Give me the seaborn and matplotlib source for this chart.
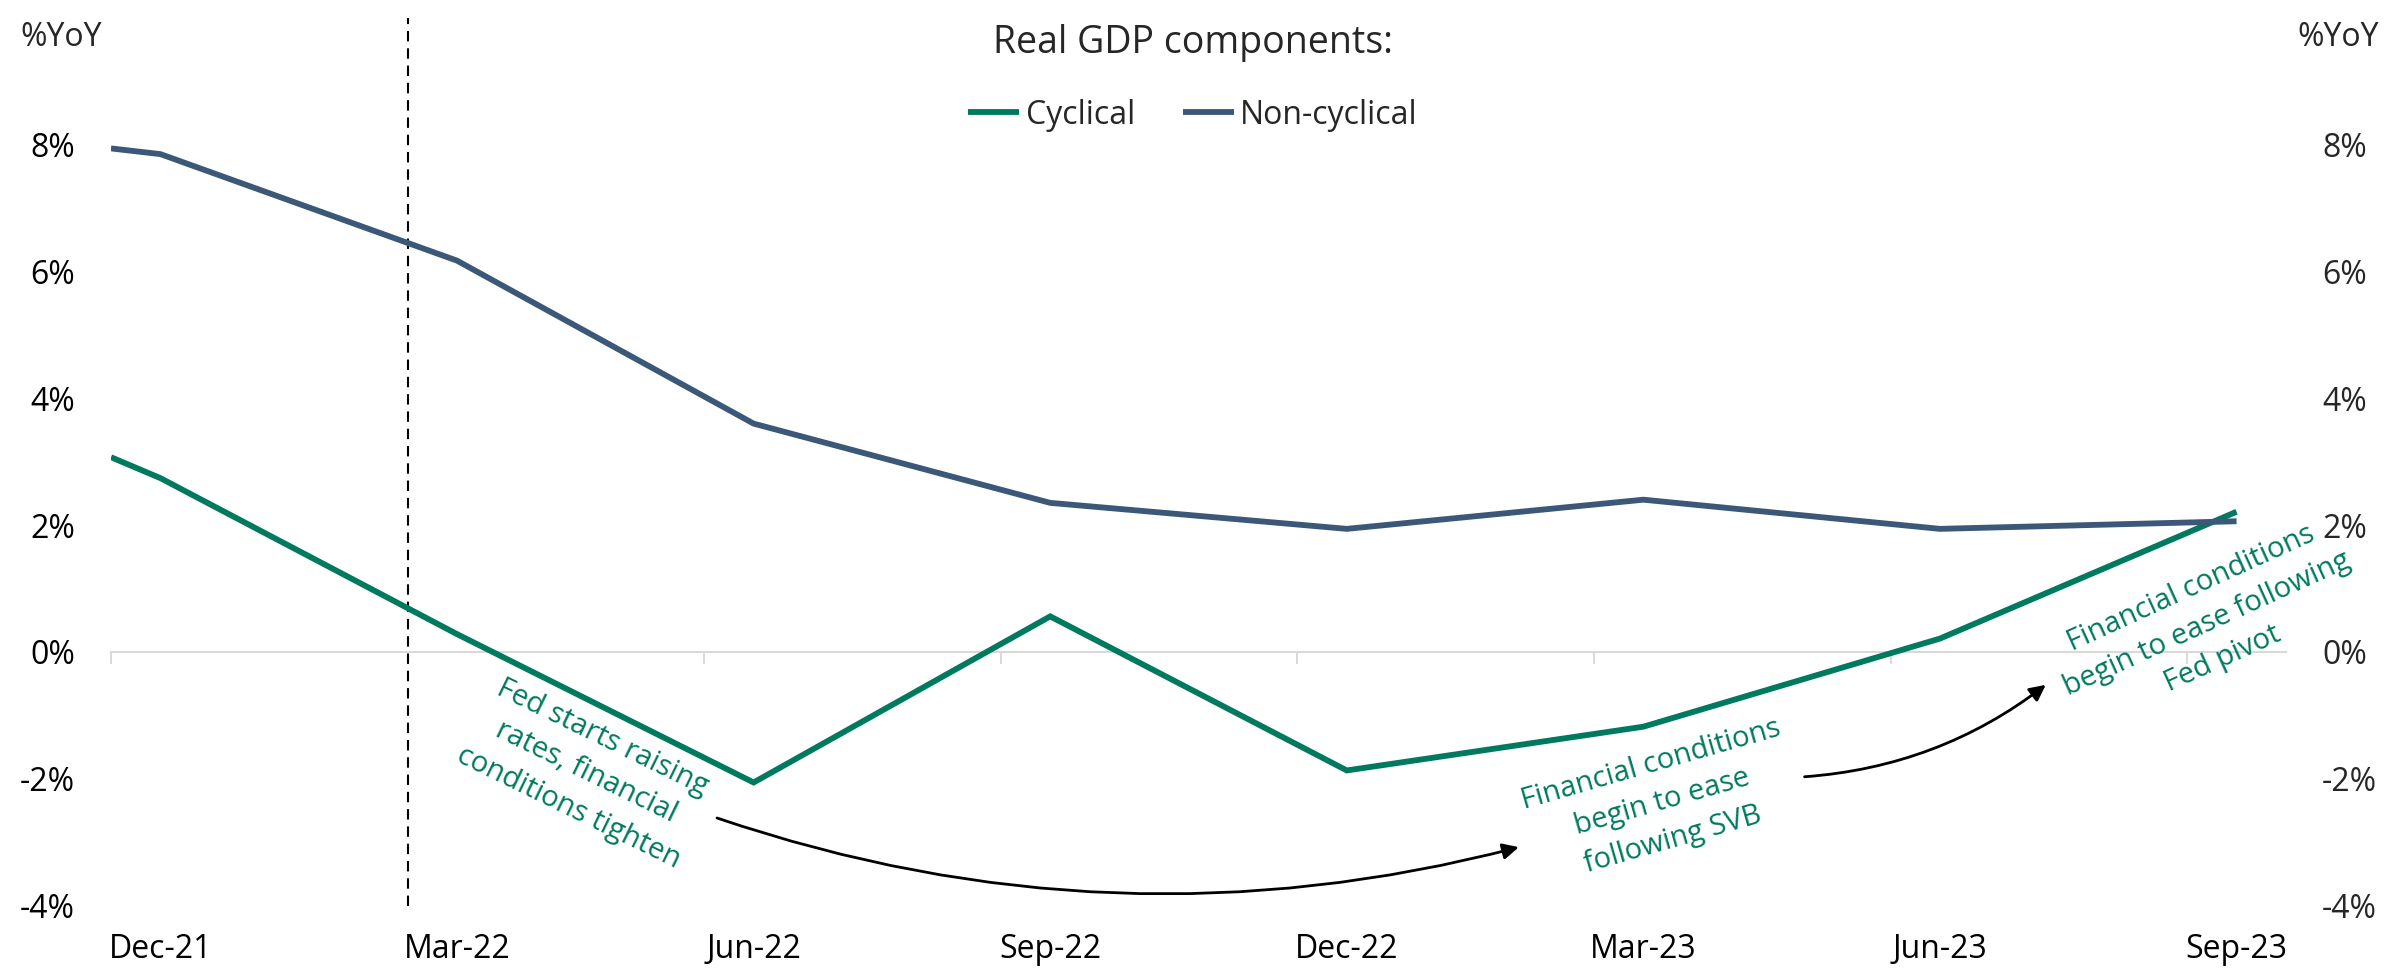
import numpy as np
import pandas as pd
import matplotlib
matplotlib.use("Agg")
import matplotlib.pyplot as plt
import seaborn as sns

# ---------------- data ----------------
# x positions in months, Dec-21 = 0 (first observation sits at the start of the axis)
month_index = [-0.5, 0, 3, 6, 9, 12, 15, 18, 21]
cyclical = [3.07, 2.74, 0.28, -2.06, 0.56, -1.87, -1.18, 0.21, 2.21]
non_cyclical = [7.94, 7.85, 6.17, 3.60, 2.35, 1.94, 2.40, 1.94, 2.06]
series_names = ["Cyclical", "Non-cyclical"]

tick_positions = [0, 3, 6, 9, 12, 15, 18, 21]
tick_labels = ["Dec-21", "Mar-22", "Jun-22", "Sep-22", "Dec-22", "Mar-23", "Jun-23", "Sep-23"]
quarter_bounds = [-0.5, 2.5, 5.5, 8.5, 11.5, 14.5, 17.5, 20.5]
y_ticks = [-4, -2, 0, 2, 4, 6, 8]
fed_hike_month = 2.5

GREEN = "#007A5E"
BLUE = "#3B5878"
GRAY = "#D9D9D9"

df = pd.DataFrame({
    "month": month_index * 2,
    "value": cyclical + non_cyclical,
    "series": [series_names[0]] * len(cyclical) + [series_names[1]] * len(non_cyclical),
})

sns.set_style("white")
plt.rcParams["font.family"] = ["Open Sans", "DejaVu Sans"]

W, H = 2386, 976
fig = plt.figure(figsize=(W / 100, H / 100), dpi=100)
ax = fig.add_axes([111 / W, 1 - 905.5 / H, (2286 - 111) / W, (905.5 - 17.8) / H])

sns.lineplot(data=df, x="month", y="value", hue="series",
             palette={series_names[0]: GREEN, series_names[1]: BLUE},
             linewidth=4.2, ax=ax, legend=True, sort=False)
handles, labels = ax.get_legend_handles_labels()
ax.get_legend().remove()
for ln in ax.lines:
    ln.set_solid_joinstyle("miter")
    ln.set_solid_capstyle("butt")

ymin, ymax = -4, 10
ax.set_xlim(-0.5, 21.5)
ax.set_ylim(ymin, ymax)
for s in ax.spines.values():
    s.set_visible(False)

ax.set_xlabel("")
ax.set_ylabel("")
ax.set_xticks(tick_positions)
ax.set_xticklabels(tick_labels)
ax.set_yticks(y_ticks)
ax.set_yticklabels([f"{v:.0f}%" for v in y_ticks])
ax.tick_params(axis="both", length=0, labelsize=23, colors="black")
ax.tick_params(axis="x", pad=20)
ax.tick_params(axis="y", pad=26)

# zero axis with quarter tick marks
sec = ax.secondary_xaxis((0 - ymin) / (ymax - ymin))
sec.set_xticks(quarter_bounds)
sec.set_xticklabels([])
sec.tick_params(axis="x", bottom=True, direction="out", length=8.6, width=1.4, color=GRAY)
sec.spines["bottom"].set_color(GRAY)
sec.spines["bottom"].set_linewidth(1.5)

# right axis
ax2 = ax.twinx()
ax2.set_ylim(ymin, ymax)
ax2.set_yticks(y_ticks)
ax2.set_yticklabels([f"{v:.0f}%" for v in y_ticks])
ax2.tick_params(axis="y", length=0, labelsize=23, pad=26, right=True)
for s in ax2.spines.values():
    s.set_visible(False)
ax2.grid(False)

# Fed hike line
ax.axvline(fed_hike_month, color="black", lw=1.5, dashes=(5, 3.3), zorder=1)

# unit labels
fig.text(61 / W, 1 - 37 / H, "%YoY", ha="center", va="center", fontsize=23)
fig.text(2338 / W, 1 - 37 / H, "%YoY", ha="center", va="center", fontsize=23)

# title + legend
fig.text(0.5, 1 - 43 / H, "Real GDP components:", ha="center", va="center", fontsize=27)
fig.legend(handles, labels, loc="center", bbox_to_anchor=(0.5, 1 - 115 / H), ncol=2,
           frameon=False, fontsize=23, handlelength=1.6, handletextpad=0.2,
           columnspacing=1.5)

# annotations
ann_kw = dict(rotation_mode="anchor", ha="center", va="center",
              multialignment="center", color=GREEN, fontsize=21, linespacing=1.45)
ax.text(4.30, -1.9, "Fed starts raising\nrates, financial\nconditions tighten",
        rotation=-26, **ann_kw)
ax.text(15.19, -2.37, "Financial conditions\nbegin to ease\nfollowing SVB",
        rotation=16, **ann_kw)
ax.text(20.70, 0.44, "Financial conditions\nbegin to ease following\nFed pivot",
        rotation=24.5, **ann_kw)

arrow_kw = dict(arrowstyle="-|>", color="black", lw=2.0, mutation_scale=24,
                shrinkA=0, shrinkB=0)
ax.annotate("", xy=(13.74, -3.08), xytext=(5.63, -2.62),
            arrowprops=dict(connectionstyle="arc3,rad=0.15", **arrow_kw))
ax.annotate("", xy=(19.07, -0.52), xytext=(16.63, -1.97),
            arrowprops=dict(connectionstyle="arc3,rad=0.15", **arrow_kw))

fig.savefig("out.png", dpi=100)
